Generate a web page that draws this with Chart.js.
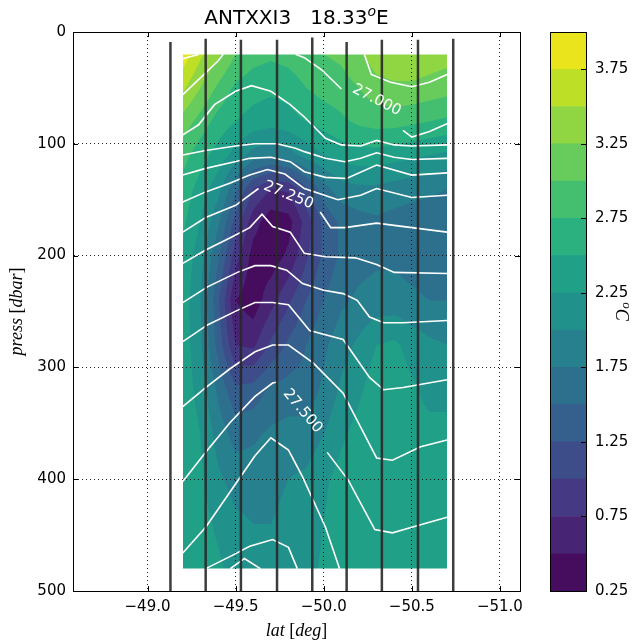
<!DOCTYPE html>
<html>
<head>
<meta charset="utf-8">
<title>ANTXXI3 section</title>
<script src="https://cdn.jsdelivr.net/npm/chart.js@4.4.1/dist/chart.umd.min.js"></script>
<style>
  html, body { margin: 0; padding: 0; background: #fff; }
  .fig { position: relative; width: 641px; height: 644px; overflow: hidden; }
  #section { position: absolute; left: 0; top: 0; }
  #cbar { position: absolute; left: 530px; top: 0; }
</style>
</head>
<body>
<div class="fig">
  <canvas id="section" width="641" height="644"></canvas>
  <canvas id="cbar" width="111" height="644"></canvas>
</div>
<script>
/* SECTION GRID */
const gridLats = [-49.2, -49.3, -49.4, -49.5, -49.6, -49.7, -49.8, -49.9, -50.0, -50.1, -50.2, -50.3, -50.4, -50.5, -50.6, -50.7];
const gridPress = [20, 50, 80, 110, 140, 170, 200, 240, 280, 320, 360, 400, 440, 480];

// potential temperature, one row per pressure level, one column per latitude
const theta = [
  [3.90, 3.55, 3.30, 3.00, 2.85, 2.80, 2.85, 2.95, 3.00, 3.05, 3.20, 3.40, 3.45, 3.45, 3.40, 3.35],
  [3.55, 3.25, 2.95, 2.70, 2.60, 2.55, 2.60, 2.75, 2.85, 2.90, 3.00, 3.15, 3.20, 3.20, 3.15, 3.10],
  [3.15, 2.90, 2.65, 2.50, 2.40, 2.35, 2.40, 2.50, 2.60, 2.70, 2.80, 2.85, 2.85, 2.80, 2.75, 2.70],
  [2.85, 2.60, 2.40, 2.15, 1.90, 1.80, 1.90, 2.10, 2.25, 2.35, 2.40, 2.40, 2.35, 2.30, 2.25, 2.20],
  [2.65, 2.40, 2.10, 1.55, 1.00, 0.75, 0.80, 1.20, 1.65, 1.90, 1.95, 1.95, 1.90, 1.85, 1.80, 1.75],
  [2.55, 2.25, 1.80, 1.15, 0.60, 0.35, 0.40, 0.85, 1.30, 1.55, 1.65, 1.70, 1.65, 1.60, 1.60, 1.60],
  [2.45, 2.10, 1.55, 0.85, 0.40, 0.35, 0.55, 0.95, 1.30, 1.55, 1.65, 1.70, 1.70, 1.65, 1.60, 1.60],
  [2.40, 2.00, 1.30, 0.50, 0.35, 0.65, 0.95, 1.25, 1.50, 1.70, 1.80, 1.85, 1.85, 1.80, 1.75, 1.75],
  [2.40, 2.05, 1.40, 0.75, 0.70, 1.05, 1.30, 1.50, 1.70, 1.90, 2.05, 2.25, 2.30, 2.15, 2.05, 2.00],
  [2.40, 2.15, 1.70, 1.30, 1.35, 1.55, 1.60, 1.60, 1.80, 2.05, 2.20, 2.40, 2.40, 2.30, 2.15, 2.15],
  [2.45, 2.25, 1.90, 1.65, 1.70, 1.80, 1.85, 1.85, 2.00, 2.20, 2.35, 2.45, 2.45, 2.40, 2.35, 2.35],
  [2.45, 2.30, 2.05, 1.90, 1.90, 1.95, 2.00, 2.05, 2.20, 2.35, 2.45, 2.45, 2.45, 2.45, 2.40, 2.40],
  [2.45, 2.35, 2.20, 2.05, 2.00, 2.00, 2.05, 2.10, 2.25, 2.40, 2.45, 2.45, 2.45, 2.45, 2.45, 2.45],
  [2.45, 2.40, 2.30, 2.15, 2.10, 2.10, 2.10, 2.15, 2.30, 2.45, 2.48, 2.48, 2.48, 2.48, 2.48, 2.45]
];
const thetaLevels = [0.25, 0.5, 0.75, 1.0, 1.25, 1.5, 1.75, 2.0, 2.25, 2.5, 2.75, 3.0, 3.25, 3.5, 3.75, 4.0];
const cbarTicks = [0.25, 0.75, 1.25, 1.75, 2.25, 2.75, 3.25, 3.75];

/* AXES */
const latTicks = [-49.0, -49.5, -50.0, -50.5, -51.0];
const pressTicks = [0, 100, 200, 300, 400, 500];

/* CTD STATIONS */
const stationLats = [-49.13, -49.33, -49.53, -49.735, -49.935, -50.13, -50.33, -50.535, -50.735];
const stationTops = [9, 6, 7, 7, 5, 9, 7, 7, 6];
const stationBottom = 500;

/* ISOPYCNALS: [lat, press] vertices, null where the line is cut for its label */
const sig2695a = [[-49.20, 24], [-49.29, 20]];
const sig2695b = [[-50.23, 20], [-50.27, 38], [-50.38, 45], [-50.50, 49], [-50.60, 45], [-50.70, 38]];
const sig2700a = [[-49.20, 56], [-49.30, 41], [-49.40, 26], [-49.43, 20]];
const sig2700b = [[-49.84, 20], [-49.89, 23], [-49.99, 34], [-50.10, 51], null, [-50.45, 88], [-50.50, 94], [-50.60, 89], [-50.70, 82]];
const sig2705 = [[-49.20, 92], [-49.29, 83], [-49.38, 65], [-49.50, 53], [-49.59, 48], [-49.70, 53], [-49.81, 65], [-49.89, 76], [-50.01, 95], [-50.10, 101], [-50.21, 102], [-50.30, 97], [-50.40, 101], [-50.50, 102], [-50.70, 101]];
const sig2710 = [[-49.20, 110], [-49.33, 106], [-49.50, 102], [-49.61, 100], [-49.735, 100], [-49.84, 104], [-49.89, 107], [-50.01, 113], [-50.12, 116], [-50.21, 113], [-50.30, 108], [-50.40, 112], [-50.50, 114], [-50.70, 113]];
const sig2715 = [[-49.20, 128], [-49.33, 122], [-49.47, 117], [-49.58, 113], [-49.70, 112], [-49.81, 116], [-49.89, 125], [-50.01, 130], [-50.13, 131], [-50.30, 119], [-50.50, 128], [-50.70, 126]];
const sig2720 = [[-49.20, 152], [-49.33, 143], [-49.47, 135], [-49.58, 128], [-49.68, 123], [-49.78, 127], [-49.89, 140], [-50.08, 150], [-50.21, 146], [-50.30, 140], [-50.50, 148], [-50.70, 146]];
const sig2725 = [[-49.20, 179], [-49.33, 166], [-49.50, 155], [-49.63, 140], null, [-49.98, 161], [-50.04, 175], [-50.12, 175], [-50.30, 171], [-50.50, 175], [-50.70, 179]];
const sig2730 = [[-49.20, 207], [-49.33, 195], [-49.47, 184], [-49.58, 175], [-49.65, 163], [-49.71, 174], [-49.81, 179], [-49.89, 198], [-50.01, 201], [-50.18, 202], [-50.30, 208], [-50.40, 215], [-50.70, 216]];
const sig2735 = [[-49.20, 242], [-49.34, 228], [-49.51, 215], [-49.61, 209], [-49.70, 209], [-49.79, 213], [-49.88, 225], [-50.00, 231], [-50.11, 234], [-50.19, 240], [-50.26, 255], [-50.34, 260], [-50.45, 260], [-50.70, 258]];
const sig2740 = [[-49.20, 277], [-49.34, 262], [-49.51, 249], [-49.61, 242], [-49.71, 242], [-49.80, 244], [-49.92, 267], [-50.11, 275], [-50.26, 309], [-50.34, 320], [-50.45, 318], [-50.70, 311]];
const sig2745 = [[-49.20, 335], [-49.33, 318], [-49.47, 301], [-49.61, 286], [-49.71, 280], [-49.80, 280], [-49.94, 296], [-50.11, 323], [-50.30, 381], [-50.39, 383], [-50.55, 371], [-50.70, 365]];
const sig2750 = [[-49.20, 402], [-49.33, 376], [-49.47, 349], [-49.61, 326], [-49.71, 314], [-49.74, 313], null, [-50.02, 376], [-50.14, 401], [-50.29, 445], [-50.39, 448], [-50.50, 443], [-50.70, 434]];
const sig2755 = [[-49.20, 466], [-49.33, 443], [-49.47, 411], [-49.61, 379], [-49.70, 363], [-49.80, 374], [-49.88, 398], [-50.01, 443], [-50.09, 480]];
const sig2760 = [[-49.33, 480], [-49.47, 469], [-49.58, 460], [-49.71, 454], [-49.80, 461], [-49.85, 480]];
const sig2765 = [[-49.47, 480], [-49.55, 471], [-49.64, 480]];

const isopycnals = [
  { level: 26.95, pts: sig2695a }, { level: 26.95, pts: sig2695b },
  { level: 27.00, pts: sig2700a }, { level: 27.00, pts: sig2700b },
  { level: 27.05, pts: sig2705 }, { level: 27.10, pts: sig2710 },
  { level: 27.15, pts: sig2715 }, { level: 27.20, pts: sig2720 },
  { level: 27.25, pts: sig2725 }, { level: 27.30, pts: sig2730 },
  { level: 27.35, pts: sig2735 }, { level: 27.40, pts: sig2740 },
  { level: 27.45, pts: sig2745 }, { level: 27.50, pts: sig2750 },
  { level: 27.55, pts: sig2755 }, { level: 27.60, pts: sig2760 },
  { level: 27.65, pts: sig2765 }
];
const isoLabels = [
  { level: 27.00, lat: -50.30, p: 61, angle: 27 },
  { level: 27.25, lat: -49.80, p: 146, angle: 22 },
  { level: 27.50, lat: -49.88, p: 339, angle: 50 }
];

/* COLORMAP */
const viridisStops = ['#440154', '#471365', '#482475', '#463480', '#414487', '#3b528b', '#355f8d',
  '#2f6c8e', '#2a788e', '#25848e', '#21918c', '#1e9c89', '#22a884', '#2fb47c', '#44bf70',
  '#5ec962', '#7ad151', '#9bd93c', '#bddf26', '#dfe318', '#fde725'];

function hexToRgb(h){
  return [1, 3, 5].map(i => parseInt(h.slice(i, i + 2), 16));
}
function viridis(t){
  const n = viridisStops.length - 1;
  const f = Math.min(Math.max(t, 0), 1) * n;
  const i = Math.min(Math.floor(f), n - 1);
  const u = f - i;
  const a = hexToRgb(viridisStops[i]), b = hexToRgb(viridisStops[i + 1]);
  return a.map((v, k) => Math.round(v + (b[k] - v) * u));
}
const nBands = thetaLevels.length - 1;
const bandColors = [];
for(let k = 0; k < nBands; k++) bandColors.push(viridis((k + 0.5) / nBands));
const rgbStr = c => `rgb(${c[0]},${c[1]},${c[2]})`;

/* FIELD SAMPLING */
function locate(arr, v){
  for(let i = 0; i < arr.length - 1; i++){
    const a = arr[i], b = arr[i + 1];
    if((v - a) * (v - b) <= 0) return [i, (v - a) / (b - a)];
  }
  return null;
}
function thetaAt(lat, p){
  const c = locate(gridLats, lat), r = locate(gridPress, p);
  if(!c || !r) return NaN;
  const [i, u] = c, [j, v] = r;
  const top = theta[j][i] * (1 - u) + theta[j][i + 1] * u;
  const bot = theta[j + 1][i] * (1 - u) + theta[j + 1][i + 1] * u;
  return top * (1 - v) + bot * v;
}
function bandOf(t){
  for(let k = 0; k < nBands; k++){
    if(t >= thetaLevels[k] && t <= thetaLevels[k + 1]) return k;
  }
  return -1;
}

/* FILLED CONTOURS, painted under the grid */
const fieldPlugin = {
  id: 'field',
  beforeDraw(chart){
    const { ctx, scales: { x, y } } = chart;
    ctx.save();
    ctx.fillStyle = '#fff';
    ctx.fillRect(0, 0, chart.width, chart.height);
    ctx.restore();

    const left = Math.floor(x.getPixelForValue(gridLats[0]));
    const right = Math.ceil(x.getPixelForValue(gridLats[gridLats.length - 1]));
    const top = Math.floor(y.getPixelForValue(gridPress[0]));
    const bottom = Math.ceil(y.getPixelForValue(gridPress[gridPress.length - 1]));
    const w = right - left, h = bottom - top;
    const img = ctx.getImageData(left, top, w, h);
    const sub = [0.25, 0.75];
    for(let py = 0; py < h; py++){
      for(let px = 0; px < w; px++){
        let r = 0, g = 0, b = 0;
        for(const sy of sub){
          const p = y.getValueForPixel(top + py + sy);
          for(const sx of sub){
            const k = bandOf(thetaAt(x.getValueForPixel(left + px + sx), p));
            const c = k < 0 ? [255, 255, 255] : bandColors[k];
            r += c[0]; g += c[1]; b += c[2];
          }
        }
        const idx = (py * w + px) * 4;
        img.data[idx] = r / 4;
        img.data[idx + 1] = g / 4;
        img.data[idx + 2] = b / 4;
        img.data[idx + 3] = 255;
      }
    }
    ctx.putImageData(img, left, top);
  }
};

/* CONTOUR LABELS */
const isoLabelPlugin = {
  id: 'isoLabels',
  afterDatasetsDraw(chart){
    const { ctx, scales: { x, y } } = chart;
    ctx.save();
    ctx.fillStyle = '#fff';
    ctx.font = '15px "DejaVu Sans"';
    ctx.textAlign = 'center';
    ctx.textBaseline = 'middle';
    isoLabels.forEach(l => {
      ctx.save();
      ctx.translate(x.getPixelForValue(l.lat), y.getPixelForValue(l.p));
      ctx.rotate(l.angle * Math.PI / 180);
      ctx.fillText(l.level.toFixed(3), 0, 0);
      ctx.restore();
    });
    ctx.restore();
  }
};

/* mixed roman / italic strings, centred on cx */
function drawParts(ctx, parts, cx, cy){
  let w = 0;
  parts.forEach(p => { ctx.font = p[1]; w += ctx.measureText(p[0]).width; });
  let xx = cx - w / 2;
  parts.forEach(p => {
    ctx.font = p[1];
    ctx.fillText(p[0], xx, cy + (p[2] || 0));
    xx += ctx.measureText(p[0]).width;
  });
}

const ROMAN = '20px "DejaVu Sans"';
const MATH_I = 'italic 18px "Liberation Serif"';
const MATH_R = '18px "Liberation Serif"';

/* FRAME, INWARD TICKS, TITLES */
const framePlugin = {
  id: 'frame',
  afterDraw(chart){
    const { ctx, chartArea: a, scales: { x, y } } = chart;
    ctx.save();
    ctx.strokeStyle = '#000';
    ctx.lineWidth = 1;
    ctx.strokeRect(Math.round(a.left) + 0.5, Math.round(a.top) + 0.5, Math.round(a.right - a.left), Math.round(a.bottom - a.top));
    ctx.beginPath();
    latTicks.forEach(v => {
      const px = Math.round(x.getPixelForValue(v)) + 0.5;
      ctx.moveTo(px, a.bottom); ctx.lineTo(px, a.bottom - 5);
      ctx.moveTo(px, a.top); ctx.lineTo(px, a.top + 5);
    });
    pressTicks.forEach(v => {
      const py = Math.round(y.getPixelForValue(v)) + 0.5;
      ctx.moveTo(a.left, py); ctx.lineTo(a.left + 5, py);
      ctx.moveTo(a.right, py); ctx.lineTo(a.right - 5, py);
    });
    ctx.stroke();

    ctx.fillStyle = '#000';
    ctx.textAlign = 'left';
    ctx.textBaseline = 'alphabetic';
    const cx = (a.left + a.right) / 2;
    drawParts(ctx, [['ANTXXI3   18.33', ROMAN], ['o', 'italic 14px "DejaVu Sans"', -8], ['E', ROMAN]], cx, 24);
    drawParts(ctx, [['lat', MATH_I], [' [', MATH_R], ['deg', MATH_I], [']', MATH_R]], cx, 636);

    ctx.translate(22, (a.top + a.bottom) / 2);
    ctx.rotate(-Math.PI / 2);
    drawParts(ctx, [['press', MATH_I], [' [', MATH_R], ['dbar', MATH_I], [']', MATH_R]], 0, 0);
    ctx.restore();
  }
};

const fmtLat = v => (v < 0 ? '\u2212' : '') + Math.abs(v).toFixed(1);

/* DATASETS */
const stationSets = stationLats.map((lat, i) => ({
  data: [{ x: lat, y: stationTops[i] }, { x: lat, y: stationBottom }],
  showLine: true,
  borderColor: 'rgba(40,40,40,0.9)',
  borderWidth: 2.5,
  pointRadius: 0,
  order: 0
}));

const isoSets = isopycnals.map(c => ({
  data: c.pts.map(pt => pt ? { x: pt[0], y: pt[1] } : { x: null, y: null }),
  showLine: true,
  spanGaps: false,
  borderColor: '#fff',
  borderWidth: 1.6,
  pointRadius: 0,
  order: 1
}));

const tickFont = { family: 'DejaVu Sans', size: 15 };

new Chart(document.getElementById('section'), {
  type: 'scatter',
  data: { datasets: [...stationSets, ...isoSets] },
  options: {
    responsive: false,
    animation: false,
    events: [],
    layout: { padding: { top: 32, right: 121, left: 0, bottom: 0 } },
    plugins: { legend: { display: false }, tooltip: { enabled: false } },
    scales: {
      x: {
        type: 'linear',
        reverse: true,
        min: -51.114,
        max: -48.577,
        afterBuildTicks: s => { s.ticks = latTicks.map(v => ({ value: v })); },
        afterFit: s => { s.height = 53; },
        ticks: { callback: v => fmtLat(v), font: tickFont, color: '#000', padding: 7, maxRotation: 0, autoSkip: false },
        grid: { color: 'rgba(0,0,0,0.85)', lineWidth: 1, drawTicks: false },
        border: { color: '#000', width: 1, dash: [1, 3] }
      },
      y: {
        type: 'linear',
        reverse: true,
        min: 0,
        max: 500,
        afterBuildTicks: s => { s.ticks = pressTicks.map(v => ({ value: v })); },
        afterFit: s => { s.width = 73; },
        ticks: { font: tickFont, color: '#000', padding: 7, autoSkip: false },
        grid: { color: 'rgba(0,0,0,0.85)', lineWidth: 1, drawTicks: false },
        border: { color: '#000', width: 1, dash: [1, 3] }
      }
    }
  },
  plugins: [fieldPlugin, isoLabelPlugin, framePlugin]
});

/* COLORBAR */
const cbarPlugin = {
  id: 'cbarFrame',
  afterDraw(chart){
    const { ctx, chartArea: a, scales: { y } } = chart;
    ctx.save();
    ctx.strokeStyle = '#000';
    ctx.lineWidth = 1;
    ctx.strokeRect(Math.round(a.left) + 0.5, Math.round(a.top) + 0.5, Math.round(a.right - a.left), Math.round(a.bottom - a.top));
    ctx.beginPath();
    cbarTicks.forEach(v => {
      const py = Math.round(y.getPixelForValue(v)) + 0.5;
      ctx.moveTo(a.right, py); ctx.lineTo(a.right - 5, py);
    });
    ctx.stroke();
    ctx.fillStyle = '#000';
    ctx.textAlign = 'left';
    ctx.textBaseline = 'alphabetic';
    ctx.translate(86, (a.top + a.bottom) / 2);
    ctx.rotate(Math.PI / 2);
    drawParts(ctx, [['o', 'italic 13px "Liberation Serif"', -7], ['C', MATH_I]], 0, 0);
    ctx.restore();
  }
};

new Chart(document.getElementById('cbar'), {
  type: 'bar',
  data: {
    labels: [''],
    datasets: bandColors.map((c, k) => ({
      data: [[thetaLevels[k], thetaLevels[k + 1]]],
      backgroundColor: rgbStr(c),
      borderWidth: 0,
      barPercentage: 1,
      categoryPercentage: 1,
      grouped: false
    }))
  },
  options: {
    responsive: false,
    animation: false,
    events: [],
    layout: { padding: { top: 32, left: 20, right: 0, bottom: 53 } },
    plugins: { legend: { display: false }, tooltip: { enabled: false } },
    scales: {
      x: { display: false },
      y: {
        position: 'right',
        min: thetaLevels[0],
        max: thetaLevels[thetaLevels.length - 1],
        afterBuildTicks: s => { s.ticks = cbarTicks.map(v => ({ value: v })); },
        afterFit: s => { s.width = 55; },
        ticks: { callback: v => v.toFixed(2), font: tickFont, color: '#000', padding: 9, autoSkip: false },
        grid: { display: false, drawTicks: false },
        border: { display: false }
      }
    }
  },
  plugins: [cbarPlugin]
});
</script>
</body>
</html>
